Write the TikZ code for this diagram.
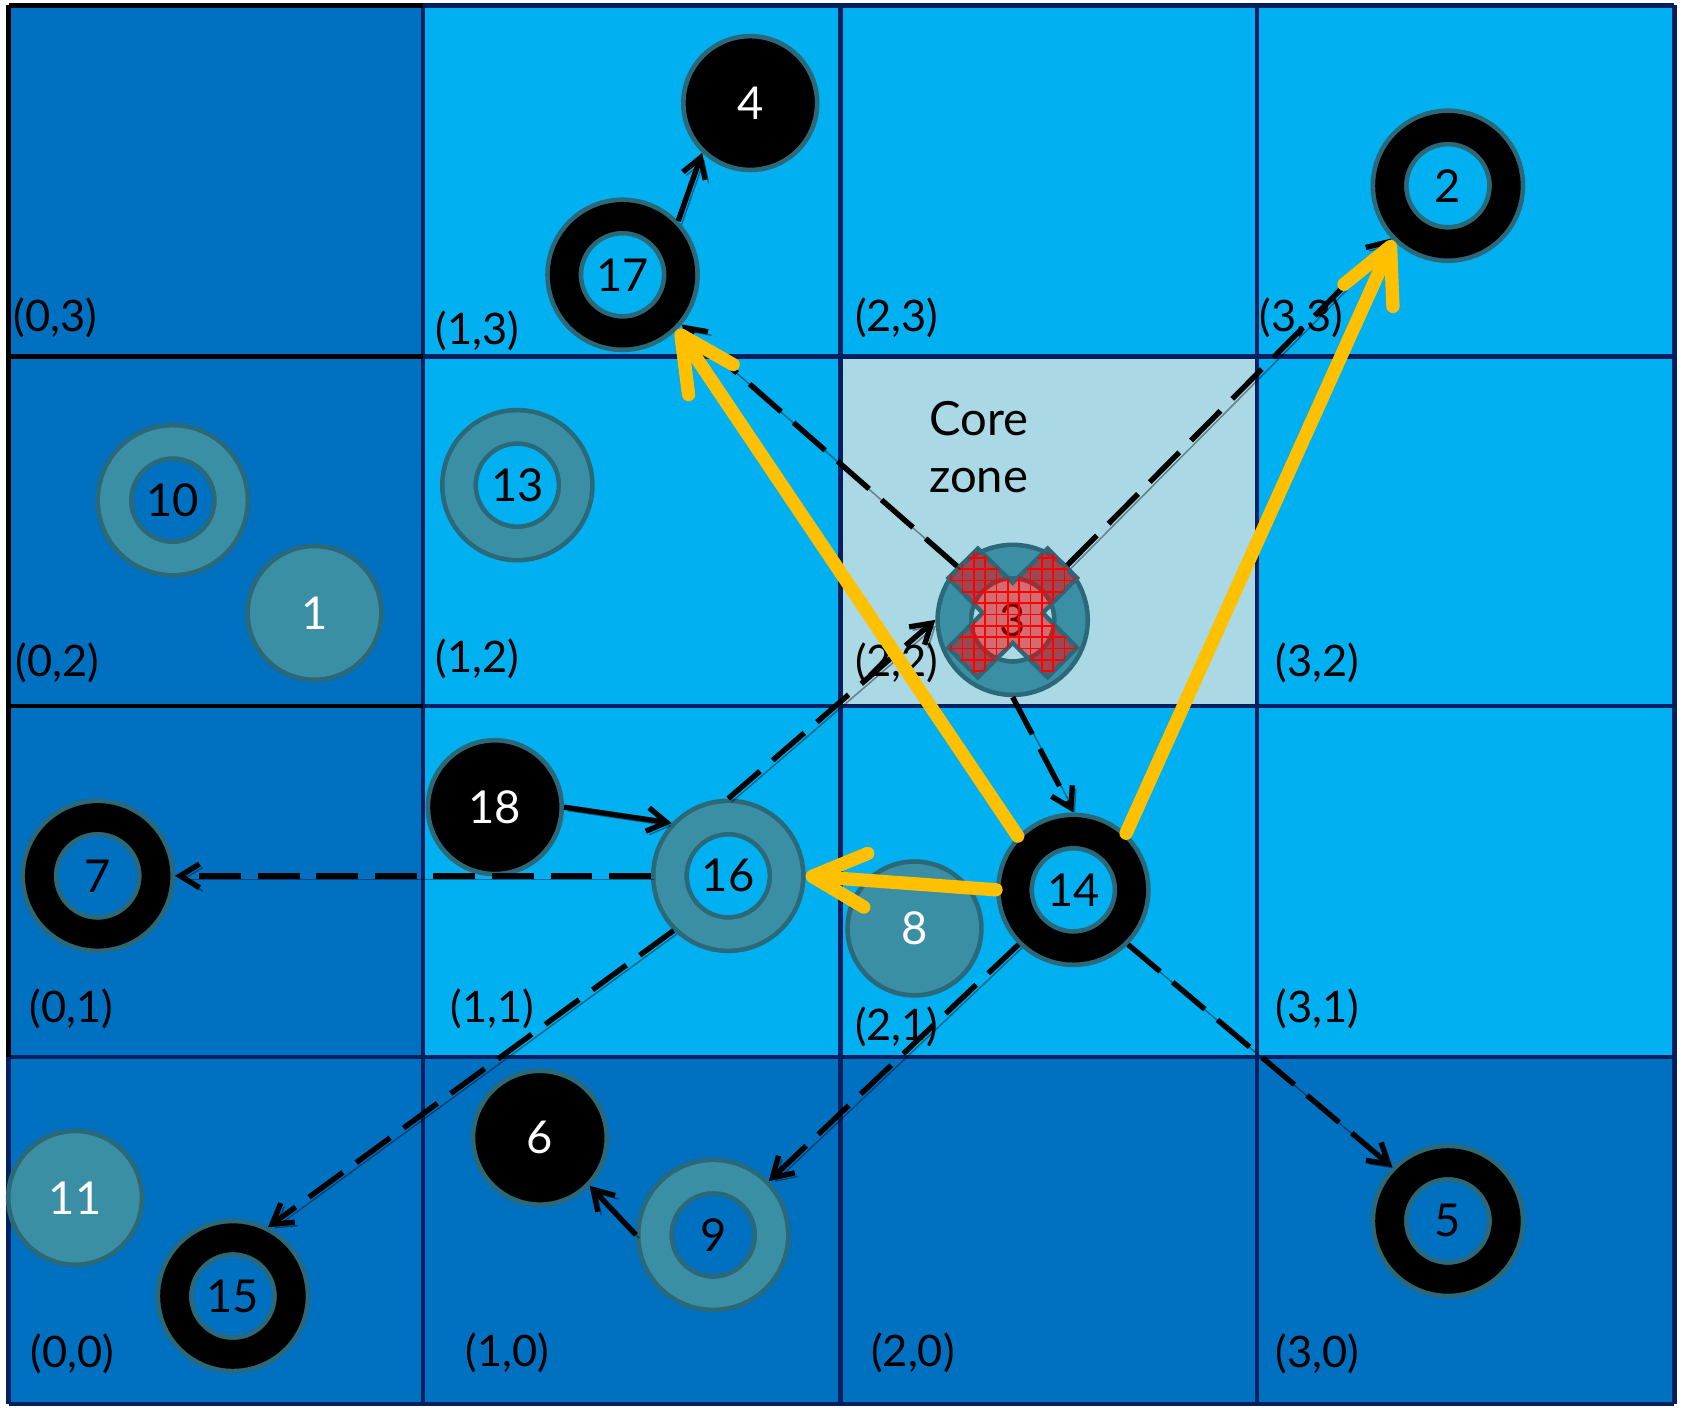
\documentclass[tikz,border=0pt]{standalone}
\usepackage{fontspec}
\setmainfont{Lato}
\usetikzlibrary{arrows.meta,patterns}
\definecolor{darkcell}{RGB}{0,112,192}
\definecolor{lightcell}{RGB}{0,176,240}
\definecolor{corecell}{RGB}{170,216,228}
\definecolor{gridnavy}{RGB}{0,32,96}
\definecolor{tealfill}{RGB}{58,143,164}
\definecolor{tealedge}{RGB}{43,104,120}
\definecolor{hopyellow}{RGB}{255,192,0}

\begin{document}
\begin{tikzpicture}[
    x=0.01cm, y=-0.01cm,
    gridline/.style={draw=gridnavy, line width=0.04cm},
    edgeline/.style={draw=black, line width=0.04cm},
    celllabel/.style={anchor=base west, inner sep=0pt, font=\fontsize{11.5}{13}\selectfont},
    solidnode/.style={
        circle, fill=black, draw=tealedge,
        line width=0.043cm, minimum size=1.246cm, inner sep=0pt,
        text=white, font=\fontsize{12}{14}\selectfont
    },
    tealnode/.style={solidnode, fill=tealfill},
    blackring/.style={
        circle, draw=tealedge, line width=0.043cm,
        double=black, double distance=0.268cm,
        minimum size=1.086cm, inner sep=0pt, outer sep=0.177cm,
        font=\fontsize{12}{14}\selectfont
    },
    tealring/.style={blackring, double=tealfill},
    shadowed/.style={preaction={draw=black, opacity=0.4, transform canvas={xshift=0.9pt, yshift=-0.9pt}}},
    move/.style={shadowed, draw=black, line width=0.05cm, -{Straight Barb[length=0.18cm, width=0.22cm]}},
    probe/.style={move, dash pattern=on 0.39cm off 0.155cm},
    hop/.style={shadowed, draw=hopyellow, line width=0.124cm, line cap=round, -{Straight Barb[length=0.5cm, width=0.5cm, round]}}
]

\useasboundingbox (0,0) rectangle (1568,1311);
\fill[white] (0,0) rectangle (1568,1311);

% Cells
\fill[darkcell] (8,5) rectangle (1560,1308);
\fill[lightcell] (394,5) rectangle (1560,985);
\fill[corecell] (783,332) rectangle (1171,658);

% Grid lines
\draw[gridline] (394,5) -- (394,1308);
\draw[gridline] (783,5) -- (783,1308);
\draw[gridline] (1171,5) -- (1171,1308);
\draw[gridline] (1560,5) -- (1560,1308);
\draw[gridline] (394,5) -- (1560,5);
\draw[gridline] (394,332) -- (1560,332);
\draw[gridline] (394,658) -- (1560,658);
\draw[gridline] (8,985) -- (1560,985);
\draw[gridline] (8,1308) -- (1560,1308);
\draw[gridline] (8,985) -- (8,1308);
\draw[edgeline] (8,5) -- (394,5);
\draw[edgeline] (8,332) -- (394,332);
\draw[edgeline] (8,658) -- (394,658);
\draw[edgeline] (8,5) -- (8,985);

% Cell labels
\node[celllabel] (c03) at (12,309) {(0,3)};
\node[celllabel] (c13) at (405,321) {(1,3)};
\node[celllabel] (c23) at (796,309) {(2,3)};
\node[celllabel] (c33) at (1173,309) {(3,3)};
\node[celllabel] (c02) at (14,630) {(0,2)};
\node[celllabel] (c12) at (405,627) {(1,2)};
\node[celllabel] (c22) at (796,630) {(2,2)};
\node[celllabel] (c32) at (1188,630) {(3,2)};
\node[celllabel] (c01) at (27,953) {(0,1)};
\node[celllabel] (c11) at (419,953) {(1,1)};
\node[celllabel] (c21) at (796,969) {(2,1)};
\node[celllabel] (c31) at (1188,953) {(3,1)};
\node[celllabel] (c00) at (28,1274) {(0,0)};
\node[celllabel] (c10) at (433,1273) {(1,0)};
\node[celllabel] (c20) at (811,1273) {(2,0)};
\node[celllabel] (c30) at (1188,1274) {(3,0)};

\node[anchor=base west, inner sep=0pt, font=\fontsize{12.5}{15}\selectfont] (corea) at (865,406) {Core};
\node[anchor=base west, inner sep=0pt, font=\fontsize{12.5}{15}\selectfont] (coreb) at (865,459) {zone};

% Nodes
\node[solidnode] (n4) at (699,96) {4};
\node[blackring] (n17) at (580,256) {17};
\node[blackring] (n2) at (1349,173) {2};
\node[tealring] (n10) at (161,466) {10};
\node[tealnode] (n1) at (293,571) {1};
\node[tealring] (n13) at (482,452) {13};
\node[tealring] (n3) at (943.5,577.5) {3};
\node[solidnode] (n18) at (461,752) {18};
\node[tealring] (n16) at (678.5,816) {16};
\node[blackring] (n7) at (91,816) {7};
\node[tealnode] (n8) at (852,865) {8};
\node[blackring] (n14) at (1000,829) {14};
\node[tealnode] (n11) at (70,1116) {11};
\node[blackring] (n15) at (217,1207.5) {15};
\node[solidnode] (n6) at (503,1060) {6};
\node[tealring] (n9) at (664.5,1150.5) {9};
\node[blackring] (n5) at (1349,1137.5) {5};

% Failed node mark
\begin{scope}[shift={(943.5,571)}]
\draw[tealedge, line width=0.04cm, fill=red, fill opacity=0.5,
      postaction={pattern=grid, pattern color=red, fill opacity=0.8}]
    (0,-28) -- (32.5,-60) -- (60,-32.5) -- (28,0) -- (60,32.5) -- (32.5,60)
    -- (0,28) -- (-32.5,60) -- (-60,32.5) -- (-28,0) -- (-60,-32.5) -- (-32.5,-60) -- cycle;
\end{scope}

% Dashed probes
\draw[probe] (n16.west) -- (n7.east);
\draw[probe] (n16.north) -- (n3.west);
\draw[probe] (n16.225) -- (n15.63);
\draw[probe] (n3.136) -- (n17.320);
\draw[probe] (n3.45) -- (n2.223);
\draw[probe] (n3.south) -- (n14.north);
\draw[probe] (n14.225) -- (n9.44);
\draw[probe] (n14.315) -- (n5.136);

% Direct moves
\draw[move] (n17.44) -- (n4.226);
\draw[move] (n18.east) -- (n16.137);
\draw[move] (n9.west) -- (n6.316);

% Hops from 14
\draw[hop] (n14.136) -- (n17.315);
\draw[hop] (n14.47) -- (n2.225);
\draw[hop] (n14.180) -- (n16.east);

\end{tikzpicture}
\end{document}
